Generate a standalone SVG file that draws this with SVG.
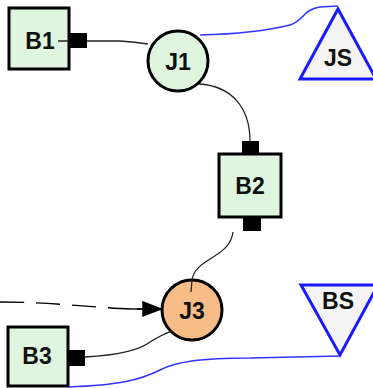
<svg xmlns="http://www.w3.org/2000/svg" width="373" height="388" viewBox="0 0 373 388">
<style>
.box{fill:#dff5df;stroke:#000;stroke-width:3}
.junc{stroke:#000;stroke-width:3}
.port{fill:#000}
.tri{fill:#f4f4f4;stroke:#1a1aff;stroke-width:3;stroke-linejoin:miter}
.lbl{font-family:"Liberation Sans",Arial,sans-serif;font-weight:bold;font-size:23px;fill:#111;text-anchor:middle;dominant-baseline:central}
.wire{fill:none;stroke:#222;stroke-width:1.3}
.sig{fill:none;stroke:#3333ff;stroke-width:1.6}
</style>
<defs>
<marker id="arr" markerWidth="26" markerHeight="18" refX="24" refY="9" orient="auto" markerUnits="userSpaceOnUse">
<path d="M0,9 H8 M6,2 L24,9 L6,16 Z" fill="#000" stroke="#000" stroke-width="1.5"/>
</marker>
</defs>
<g id="B1">
<rect class="box" x="9" y="8" width="60" height="61"/>
<rect class="port" x="69" y="33" width="18" height="15"/>
<text class="lbl" x="40" y="41">B1</text>
</g>
<g id="J1">
<circle class="junc" cx="178" cy="61" r="30" fill="#dff5df"/>
<text class="lbl" x="178" y="62">J1</text>
</g>
<g id="JS">
<polygon class="tri" points="338,9 376,79 300,79"/>
<text class="lbl" x="338" y="58">JS</text>
</g>
<g id="B2">
<rect class="port" x="242" y="141" width="17" height="13"/>
<rect class="port" x="243" y="216" width="18" height="15"/>
<rect class="box" x="219" y="154" width="62" height="63"/>
<text class="lbl" x="250" y="186">B2</text>
</g>
<g id="J3">
<circle class="junc" cx="192" cy="310" r="30" fill="#f8bd86"/>
<text class="lbl" x="192" y="311">J3</text>
</g>
<g id="BS">
<polygon class="tri" points="301,285 378,285 340,355"/>
<text class="lbl" x="338" y="301">BS</text>
</g>
<g id="B3">
<rect class="box" x="8" y="327" width="60" height="59"/>
<rect class="port" x="68" y="350" width="17" height="16"/>
<text class="lbl" x="37" y="356">B3</text>
</g>
<g id="connectors">
<path class="wire" d="M58,41 H69 M87,41 L120,41 Q135,42 148,44"/>
<path class="wire" d="M199,84 C232,86 250,108 250,141"/>
<path class="wire" d="M233,232 C230,258 195,258 192,280 L191,292"/>
<path class="wire" d="M85,357 C120,355 140,350 150,342 C158,337 165,333 172,331"/>
<path class="sig" d="M200,35 C240,34 270,30 290,25 C305,20 302,10 320,7 L338,6"/>
<path class="sig" d="M68,387 C120,385 140,380 160,370 C175,362 200,358 250,358 L340,356"/>
<path fill="none" stroke="#000" stroke-width="1.4" stroke-dasharray="24 12" d="M0,302 C50,302 100,308 130,309"/>
<path fill="none" stroke="#000" stroke-width="1.4" d="M130,309 L161,309" marker-end="url(#arr)"/>
</g>
</svg>
